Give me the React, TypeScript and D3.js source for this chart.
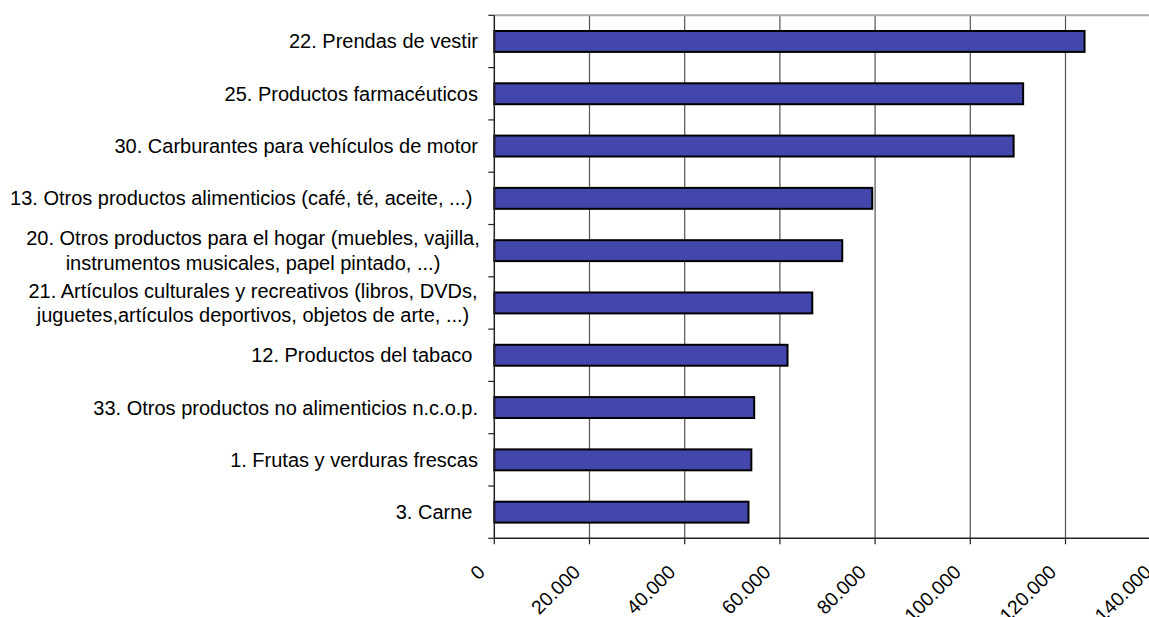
import { useEffect, useRef } from 'react'
import * as d3 from 'd3'

// categories top to bottom; multi-line labels split by '\n'
const CATEGORIES = [
  '22. Prendas de vestir',
  '25. Productos farmacéuticos',
  '30. Carburantes para vehículos de motor',
  '13. Otros productos alimenticios (café, té, aceite, ...) ',
  '20. Otros productos para el hogar (muebles, vajilla,\ninstrumentos musicales, papel pintado, ...)',
  '21. Artículos culturales y recreativos (libros, DVDs,\njuguetes,artículos deportivos, objetos de arte, ...)',
  '12. Productos del tabaco ',
  '33. Otros productos no alimenticios n.c.o.p.',
  '1. Frutas y verduras frescas',
  '3. Carne ',
]
const VALUES = [124000, 111100, 109100, 79400, 73100, 66800, 61600, 54600, 54000, 53400]
const X_TICKS = [0, 20000, 40000, 60000, 80000, 100000, 120000, 140000]

const W = 1149
const H = 617
const LEFT = 494.3
const TOP = 15.3
const BOTTOM = 538.3
const FONT = 'Liberation Sans, Arial, sans-serif'
const FS = 20

export default function App() {
  const ref = useRef<SVGSVGElement>(null)

  useEffect(() => {
    if (!ref.current) return
    const svg = d3.select(ref.current)
    svg.selectAll('*').remove()

    const x = d3.scaleLinear().domain([0, 140000]).range([LEFT, LEFT + 7 * 95.2])
    const y = d3.scaleBand<string>().domain(CATEGORIES).range([TOP, BOTTOM]).paddingInner(0.6).paddingOuter(0.3)
    const band = d3.scaleBand<string>().domain(CATEGORIES).range([TOP, BOTTOM])
    const fmt = (v: number) => d3.format(',')(v).replace(/,/g, '.')

    // gridlines
    svg.append('g').selectAll('line').data(X_TICKS.slice(1)).join('line')
      .attr('x1', d => x(d)).attr('x2', d => x(d))
      .attr('y1', TOP).attr('y2', BOTTOM)
      .attr('stroke', '#555').attr('stroke-width', 1.2)

    // top border
    svg.append('line')
      .attr('x1', LEFT).attr('x2', W).attr('y1', TOP).attr('y2', TOP)
      .attr('stroke', '#aaa').attr('stroke-width', 2)

    // bars
    svg.append('g').selectAll('rect').data(CATEGORIES).join('rect')
      .attr('x', x(0))
      .attr('y', d => y(d)!)
      .attr('width', (_, i) => x(VALUES[i]) - x(0))
      .attr('height', y.bandwidth())
      .attr('fill', '#4347AC')
      .attr('stroke', '#000').attr('stroke-width', 2)

    // y axis
    svg.append('line')
      .attr('x1', LEFT).attr('x2', LEFT).attr('y1', TOP).attr('y2', BOTTOM)
      .attr('stroke', '#222').attr('stroke-width', 1.5)
    const yTicks = CATEGORIES.map(c => band(c)!).concat([BOTTOM])
    svg.append('g').selectAll('line').data(yTicks).join('line')
      .attr('x1', LEFT - 6).attr('x2', LEFT).attr('y1', d => d).attr('y2', d => d)
      .attr('stroke', '#222').attr('stroke-width', 1.2)

    // x axis
    svg.append('line')
      .attr('x1', LEFT).attr('x2', W).attr('y1', BOTTOM).attr('y2', BOTTOM)
      .attr('stroke', '#222').attr('stroke-width', 1.5)
    svg.append('g').selectAll('line').data(X_TICKS).join('line')
      .attr('x1', d => x(d)).attr('x2', d => x(d)).attr('y1', BOTTOM).attr('y2', BOTTOM + 6)
      .attr('stroke', '#222').attr('stroke-width', 1.2)

    svg.append('g').selectAll('text').data(X_TICKS).join('text')
      .attr('transform', d => `translate(${x(d) - 8},${BOTTOM + 35}) rotate(-45)`)
      .attr('text-anchor', 'end')
      .attr('font-family', FONT).attr('font-size', 19.5).attr('fill', '#000')
      .text(d => fmt(d))

    // category labels
    CATEGORIES.forEach(c => {
      const lines = c.split('\n')
      const cy = band(c)! + band.bandwidth() / 2
      const t = svg.append('text')
        .attr('font-family', FONT).attr('font-size', FS).attr('fill', '#000')
        .style('white-space', 'pre')
      if (lines.length === 1) {
        t.attr('x', 478).attr('y', cy).attr('dy', '0.35em').attr('text-anchor', 'end').text(c)
      } else {
        t.attr('text-anchor', 'middle')
        lines.forEach((l, i) => {
          t.append('tspan').attr('x', 253).attr('y', cy + (i - 0.5) * 24.5).attr('dy', '0.35em').text(l)
        })
      }
    })
  }, [])

  return (
    <svg ref={ref} width={W} height={H}
      style={{ position: 'absolute', left: 0, top: 0, background: '#fff', display: 'block' }} />
  )
}
